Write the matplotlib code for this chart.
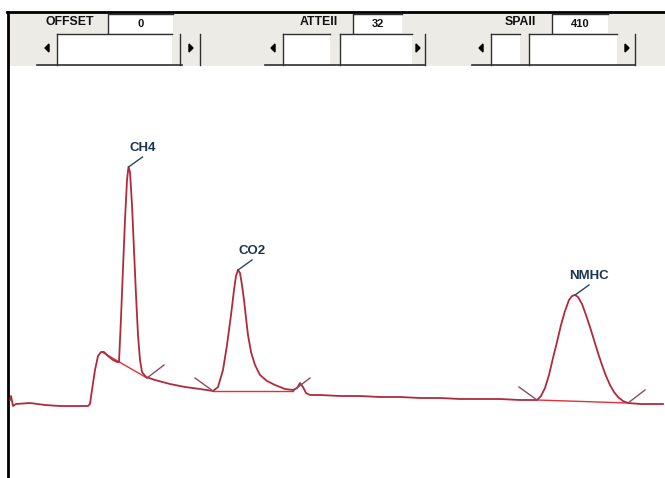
import matplotlib
matplotlib.use("Agg")
import matplotlib.pyplot as plt
from matplotlib.patches import Rectangle, Polygon

# ---- data (time = px column, signal = height above bottom) ----
trace_t = [10, 11, 13, 16, 30, 45, 60, 75, 88, 90, 92, 95, 98, 101, 104, 108, 113, 117,
           119, 121, 123, 125, 127, 128.5, 130, 132, 134, 136, 138, 140, 142, 146, 155,
           170, 185, 200, 213, 218, 223, 227, 231, 234, 236, 238, 240, 242, 244, 246, 248,
           251, 255, 260, 267, 275, 285, 293, 297, 300, 303, 306, 310, 320, 340, 360, 380,
           400, 420, 440, 460, 480, 500, 520, 530, 537, 541, 545, 549, 553, 557, 561, 565,
           569, 572, 575, 578, 582, 586, 590, 594, 598, 602, 606, 610, 614, 618, 623, 628,
           640, 663]
trace_y = [400, 396, 406, 404, 403, 405, 406, 406, 406, 404, 390, 370, 356, 352, 352, 356,
           360, 362, 362, 318, 268, 220, 180, 167, 172, 205, 250, 295, 335, 360, 372, 377,
           380, 384, 387, 389, 391, 387, 370, 345, 315, 290, 276, 270, 273, 285, 300, 318,
           335, 352, 365, 375, 381, 385, 389, 390, 388, 383, 387, 393, 395, 395, 396, 396,
           397, 397, 398, 398, 399, 399, 399, 400, 400, 400, 396, 388, 375, 358, 342, 325,
           311, 300, 296, 295, 297, 304, 315, 327, 340, 353, 365, 376, 385, 392, 397, 401,
           403, 404, 404]
trace_s = [478 - v for v in trace_y]

peak_names = ["CH4", "CO2", "NMHC"]
peak_apex_t = [128.5, 238, 575]
peak_apex_s = [478 - 167, 478 - 270, 478 - 295]
peak_start_t = [102, 213, 537]
peak_start_s = [478 - 352, 478 - 391, 478 - 400]
peak_end_t = [147, 293, 628]
peak_end_s = [478 - 378, 478 - 391, 478 - 403]
start_tick = [False, True, True]

control_names = ["OFFSET", "ATTEII", "SPAII"]
control_values = [0, 32, 410]

fig = plt.figure(figsize=(6.65, 4.78), dpi=100)

# overlay in pixel coordinates for the window chrome
bg = fig.add_axes([0, 0, 1, 1])
bg.set_xlim(0, 665)
bg.set_ylim(478, 0)
bg.axis('off')

bg.add_patch(Rectangle((8, 12), 657, 54, facecolor='#ecebe5', edgecolor='none'))
bg.plot([7, 665], [12, 12], color='black', lw=2)
bg.plot([8, 8], [12, 478], color='black', lw=2)

label_x = [70, 319, 520]
box_x = [(108, 173), (353, 402), (552, 608)]
bottoms = [(37, 182), (265, 425), (472, 635)]
verticals = [[57, 180, 200], [283, 340, 425], [491, 529, 635]]
tops = [[(57, 172)], [(283, 330), (340, 412)], [(491, 520), (529, 617)]]
arrows = [(47, 191), (273, 418), (481, 627)]
edge = '#303030'

for i, name in enumerate(control_names):
    bg.text(label_x[i], 22, name, ha='center', va='center', fontsize=8.8,
            fontweight='bold', family='Liberation Sans', color='#111111')
    a, b = box_x[i]
    bg.add_patch(Rectangle((a, 14), b - a, 19, facecolor='white', edgecolor='none'))
    bg.plot([a, a, b], [33, 14, 14], color=edge, lw=1)
    bg.text((a + b) / 2, 24, str(control_values[i]), ha='center', va='center',
            fontsize=8, fontweight='bold', family='Liberation Sans', color='#111111')
    for (p, q) in tops[i]:
        bg.add_patch(Rectangle((p, 34), q - p, 31, facecolor='white', edgecolor='none'))
        bg.plot([p, q], [34, 34], color=edge, lw=1)
    for v in verticals[i]:
        bg.plot([v, v], [34, 65], color=edge, lw=1)
    bg.plot(list(bottoms[i]), [65, 65], color=edge, lw=1.2)
    la, ra = arrows[i]
    bg.add_patch(Polygon([[la + 2, 44], [la + 2, 52], [la - 2, 48]], color='black'))
    bg.add_patch(Polygon([[ra - 2, 44], [ra - 2, 52], [ra + 2, 48]], color='black'))

# chromatogram area
ax = fig.add_axes([9 / 665, 0, 656 / 665, 412 / 478])
ax.set_xlim(9, 665)
ax.set_ylim(0, 412)
ax.axis('off')

ax.plot(trace_t, trace_s, color='#b02a3c', lw=1.3, zorder=3)

for i, name in enumerate(peak_names):
    # integration baseline
    ax.plot([peak_start_t[i], peak_end_t[i]], [peak_start_s[i], peak_end_s[i]],
            color='#e0303a', lw=1.0, zorder=2)
    # start / end tick marks
    if start_tick[i]:
        ax.plot([peak_start_t[i] - 18, peak_start_t[i]], [peak_start_s[i] + 13, peak_start_s[i]],
                color='#8c4a66', lw=1.0, zorder=4)
    ax.plot([peak_end_t[i], peak_end_t[i] + 17], [peak_end_s[i], peak_end_s[i] + 13],
            color='#8c4a66', lw=1.0, zorder=4)
    # label with leader
    ax.plot([peak_apex_t[i], peak_apex_t[i] + 14], [peak_apex_s[i], peak_apex_s[i] + 10],
            color='#2a4560', lw=1.0, zorder=4)
    ax.text(peak_apex_t[i] + 14, peak_apex_s[i] + 13, name, ha='center', va='bottom',
            fontsize=9.5, fontweight='bold', family='Liberation Sans', color='#1b3550')

fig.savefig('out.png', dpi=100)
